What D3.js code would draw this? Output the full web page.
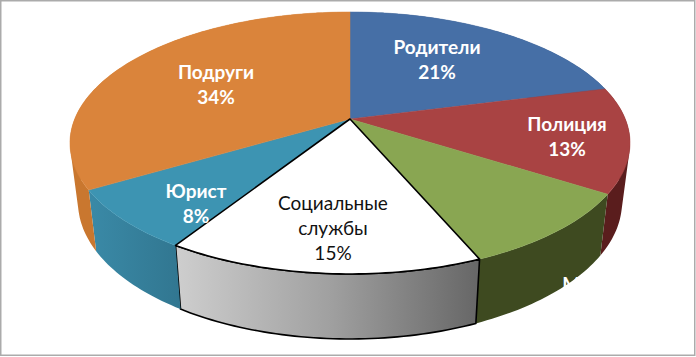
<!DOCTYPE html>
<html><head><meta charset="utf-8">
<script src="https://cdn.jsdelivr.net/npm/d3@7/dist/d3.min.js"></script>
<style>html,body{margin:0;padding:0;background:#fff;overflow:hidden}svg{display:block}</style>
</head><body><svg id="c" width="696" height="357"></svg>
<script>
const categories = ["Родители","Полиция","Муж","Социальные службы","Юрист","Подруги"];
const values = [21,13,9.6,15.4,7.5,33.5];
const topColors = ["#466fa6","#a94343","#89a652","#ffffff","#3d94b2","#da843b"];
const sideColors = ["#2f4c75","#5a1d1d","#3e4a20","url(#socialSide)","url(#lawyerSide)","#c9772f"];
const labelLines = [["Родители"],["Полиция"],["Муж"],["Социальные","службы"],["Юрист"],["Подруги"]];

const svg = d3.select("#c");
const cx = 350, apexY = 119, k = 0.183, A = 275.3, B = 126.6;
const pct = d3.scaleLinear().domain([0,d3.sum(values)]).range([0,100]);

const defs = svg.append("defs");
function grad(id, stops){
  const g = defs.append("linearGradient").attr("id",id)
    .attr("gradientUnits","userSpaceOnUse").attr("x1",stops[0][0]).attr("x2",stops[stops.length-1][0]).attr("y1",0).attr("y2",0);
  stops.forEach(s=>g.append("stop").attr("offset",(s[0]-stops[0][0])/(stops[stops.length-1][0]-stops[0][0])).attr("stop-color",s[1]));
}
grad("socialSide",[[180,"#cdcdcd"],[330,"#a0a0a0"],[475,"#686868"]]);
grad("lawyerSide",[[92,"#3a89a6"],[182,"#317690"]]);

// Perspective projection of the pie disc
const topPt = t => { const w = 1 + k*Math.cos(t); return [cx + A*Math.sin(t)/w, apexY - B*Math.cos(t)/w]; };
const botPt = t => { const p = topPt(t); return [cx + (p[0]-cx)*272/280, 202 + (p[1]-143)*137/131]; };
const arcs = d3.pie().sort(null).value(d=>d)(values);
const steps = (a,b) => { const n = Math.max(2,Math.ceil((b-a)/0.02)); return d3.range(n+1).map(i=>a+(b-a)*i/n); };
const line = d3.line();
const topArc = a => steps(a.startAngle,a.endAngle).map(topPt);
const botArc = a => steps(a.startAngle,a.endAngle).map(botPt);
const outlined = i => categories[i] === "Социальные службы";

// Sides: one path per slice, made of same-winding quads so the silhouette stays closed at the extremes
const sideQuads = a => d3.pairs(steps(a.startAngle,a.endAngle)).map(([p,q]) => {
  const quad = [topPt(p),topPt(q),botPt(q),botPt(p)];
  if (d3.polygonArea(quad) < 0) quad.reverse();
  return line(quad) + "Z";
}).join("");
const sides = svg.append("g");
arcs.forEach((a,i)=>{
  sides.append("path").attr("d", sideQuads(a)).attr("fill",sideColors[i]);
  if(outlined(i)){
    sides.append("path").attr("d", line(topArc(a).concat(botArc(a).reverse())) + "Z")
      .attr("fill","none").attr("stroke","#000").attr("stroke-width",1.6).attr("stroke-linejoin","round");
  }
});

// Top faces (outlined slice last)
const order = arcs.map((a,i)=>i).sort((p,q)=>outlined(p)-outlined(q));
svg.append("g").selectAll("path").data(order).join("path")
  .attr("d", i => line([[cx,apexY]].concat(topArc(arcs[i]))) + "Z")
  .attr("fill", i => topColors[i])
  .attr("stroke", i => outlined(i)?"#000":topColors[i])
  .attr("stroke-width", i => outlined(i)?1.6:0.5)
  .attr("stroke-linejoin","round");

// Labels
const labelAt = [[437,47],[567,124],[584,284],[333,203],[196,191],[216,72]];
const g = svg.append("g").attr("font-family","Lato, 'Open Sans', sans-serif").attr("text-anchor","middle").attr("font-size",19);
values.forEach((v,i)=>{
  const lines = labelLines[i].concat([Math.round(pct(v))+"%"]);
  lines.forEach((s,j)=>{
    g.append("text").attr("x",labelAt[i][0]).attr("y",labelAt[i][1]+j*25.3).attr("dy","0.35em")
      .attr("fill",outlined(i)?"#111":"#fff").attr("font-weight",outlined(i)?400:700).text(s);
  });
});

// Frame
svg.append("rect").attr("x",0.75).attr("y",0.75).attr("width",694).attr("height",354.5)
  .attr("fill","none").attr("stroke","#ababab").attr("stroke-width",1.5);
</script></body></html>
